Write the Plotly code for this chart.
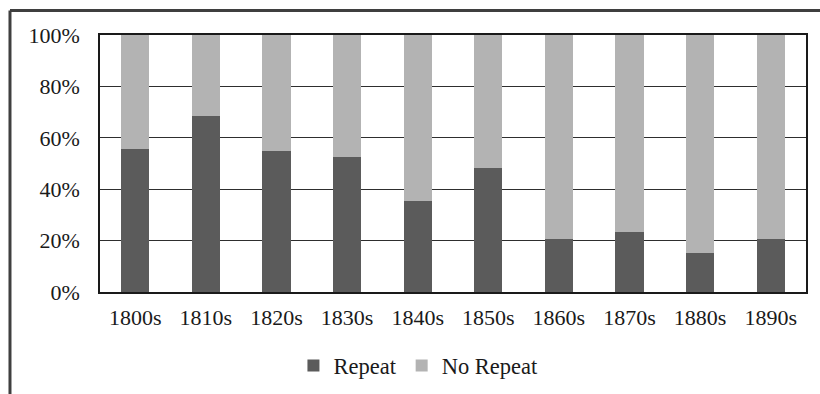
import plotly.graph_objects as go

decades = ["1800s", "1810s", "1820s", "1830s", "1840s",
           "1850s", "1860s", "1870s", "1880s", "1890s"]
repeat_pct = [55.5, 68.6, 55.0, 52.5, 35.3, 48.3, 20.5, 23.2, 15.0, 20.6]
no_repeat_pct = [100 - v for v in repeat_pct]

y_ticks = [0, 20, 40, 60, 80, 100]
y_tick_text = ["0%", "20%", "40%", "60%", "80%", "100%"]

FONT = "Liberation Serif, Times New Roman, serif"

fig = go.Figure()
fig.add_trace(go.Bar(
    x=decades, y=repeat_pct, name="Repeat",
    marker=dict(color="#5b5b5b", line=dict(width=0)),
))
fig.add_trace(go.Bar(
    x=decades, y=no_repeat_pct, name="No Repeat",
    marker=dict(color="#b3b3b3", line=dict(width=0)),
))

fig.update_layout(
    barmode="stack",
    bargap=0.6,
    width=820, height=394,
    margin=dict(l=100, r=14, t=35, b=101.5, autoexpand=False),
    paper_bgcolor="white",
    plot_bgcolor="white",
    font=dict(family=FONT, size=22, color="#1a1a1a"),
    showlegend=True,
    legend=dict(
        orientation="h",
        x=0.274, xanchor="left",
        y=-0.287, yanchor="middle",
        font=dict(family=FONT, size=22.5, color="#1a1a1a"),
        itemwidth=30,
        traceorder="normal",
        bgcolor="rgba(0,0,0,0)",
    ),
    xaxis=dict(
        showgrid=False,
        showline=True, linecolor="#1a1a1a", linewidth=1.6,
        mirror=True,
        ticks="", ticklabelstandoff=5,
        tickfont=dict(family=FONT, size=22),
    ),
    yaxis=dict(
        range=[0, 100],
        tickvals=y_ticks, ticktext=y_tick_text,
        showgrid=True, gridcolor="#2e2e2e", gridwidth=1.4,
        showline=True, linecolor="#1a1a1a", linewidth=1.6,
        mirror=True,
        ticks="", ticklabelstandoff=14,
        zeroline=False,
        tickfont=dict(family=FONT, size=22),
    ),
    shapes=[
        # outer chart frame: top edge and left edge
        dict(type="line", xref="paper", yref="paper",
             x0=-0.1275, x1=1.03, y0=1.0951, y1=1.0951,
             line=dict(color="#3f3f3f", width=3), layer="above"),
        dict(type="line", xref="paper", yref="paper",
             x0=-0.1275, x1=-0.1275, y0=1.0951, y1=-0.42,
             line=dict(color="#3f3f3f", width=3), layer="above"),
    ],
)

fig.write_html("out.html")
